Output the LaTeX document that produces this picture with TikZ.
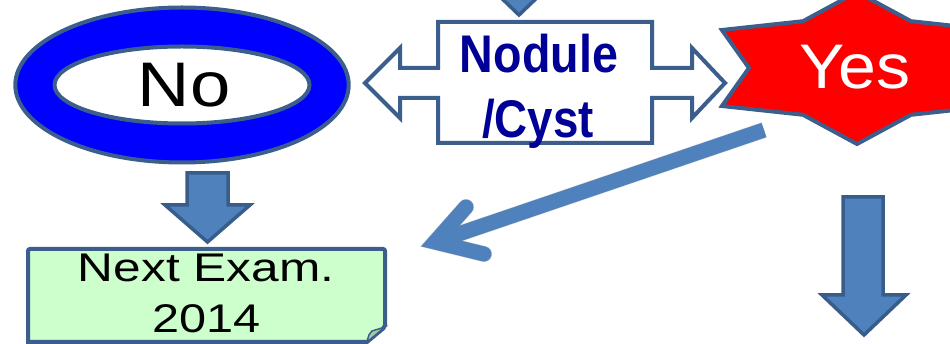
\documentclass[tikz,border=0pt]{standalone}
\usepackage{fontspec}
\setmainfont{Liberation Sans}
\definecolor{arrowblue}{HTML}{4F81BD}
\definecolor{arrowedge}{HTML}{385D8A}
\definecolor{shapeedge}{HTML}{3B5E8C}
\definecolor{navytext}{RGB}{0,0,150}
\definecolor{notegreen}{HTML}{CCFFCC}
\definecolor{notefold}{HTML}{A3CCA3}
\begin{document}
\begin{tikzpicture}[x=1pt,y=-1pt,
  blockarrow/.style={fill=arrowblue, draw=arrowedge, line width=3.5pt, line join=miter},
  outline/.style={draw=shapeedge, line width=4pt, line join=miter},
  lbl/.style={inner sep=0pt, anchor=base},
  bigtxt/.style={lbl, font=\fontsize{63}{63}\selectfont},
  cysttxt/.style={lbl, text=navytext, font=\fontsize{53}{53}\selectfont\bfseries, xscale=0.88},
  notetxt/.style={lbl, font=\fontsize{40}{40}\selectfont, xscale=1.24},
  diag/.style={draw=arrowblue, line width=15pt},
  diagshadow/.style={draw=black, opacity=0.18, line width=16pt}
]
\useasboundingbox (0,0) rectangle (950,344);

% incoming arrow head at the top
\draw[blockarrow] (493,-10) -- (545,-10) -- (519,15) -- cycle;

% ring with "No"
\draw[outline, fill=blue, even odd rule]
  (182,85) ellipse [x radius=166.7pt, y radius=77.5pt]
  (182,85) ellipse [x radius=127.5pt, y radius=38.5pt];
\node[bigtxt, xscale=1.15] (no) at (184,107) {No};

% left-right callout "Nodule / Cyst"
\draw[outline, fill=white]
  (438,22) -- (652,22) -- (652,68) -- (692,68) -- (692,48) -- (725,83)
  -- (692,118) -- (692,98) -- (652,98) -- (652,143) -- (438,143)
  -- (438,98) -- (400,98) -- (400,118) -- (365,83) -- (400,48)
  -- (400,68) -- (438,68) -- cycle;
\node[cysttxt] (nodule) at (539,73) {Nodule};
\node[cysttxt, xscale=0.98] (cyst) at (538,138) {/Cyst};

% six-pointed star with "Yes"
\draw[outline, fill=red]
  (857,-8) -- (803,21.2) -- (721.9,30) -- (749,68) -- (721.9,106)
  -- (803,114.8) -- (857,144) -- (911,114.8) -- (992.1,106)
  -- (965,68) -- (992.1,30) -- (911,21.2) -- cycle;
\node[bigtxt, text=white, xscale=1.08] (yes) at (855,89) {Yes};

% diagonal arrow from the star towards the note
\coordinate (dstart) at (764,130);
\coordinate (dvert) at (435,242);
\coordinate (darmA) at (466,207);
\coordinate (darmB) at (484,254);
\begin{scope}[shift={(2,4)}]
  \draw[diagshadow] (dstart) -- (dvert);
  \draw[diagshadow, line cap=round, line join=miter] (darmA) -- (dvert) -- (darmB);
\end{scope}
\draw[diag] (dstart) -- (dvert);
\draw[diag, line cap=round, line join=miter] (darmA) -- (dvert) -- (darmB);

% down arrow under the ring
\draw[blockarrow] (187,173) -- (228,173) -- (228,205) -- (250,205) -- (207.5,242)
  -- (165,205) -- (187,205) -- cycle;

% down arrow under the star
\draw[blockarrow] (843,197) -- (883,197) -- (883,295) -- (906,295) -- (864,335)
  -- (822,295) -- (843,295) -- cycle;

% note with folded corner
\draw[outline, fill=notegreen, rounded corners=2pt]
  (28,342) -- (28,249) -- (385,249) -- (385,327) [sharp corners] -- (367,342) -- cycle;
\draw[draw=shapeedge, line width=1.5pt, fill=notefold]
  (367,342) .. controls (369,334) .. (372,331) .. controls (378,329) .. (385,327) -- cycle;
\node[notetxt] (nextexam) at (206,282) {Next Exam.};
\node[notetxt, xscale=0.98] (year) at (206.5,333) {2014};
\end{tikzpicture}
\end{document}
